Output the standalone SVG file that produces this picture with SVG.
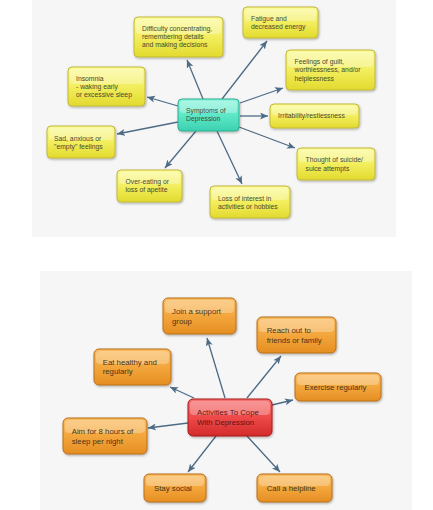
<svg xmlns="http://www.w3.org/2000/svg" width="433" height="510" viewBox="0 0 433 510">
<style>
.t{font-family:"Liberation Sans",Arial,sans-serif;font-size:6.8px;fill:#4a4a30}
.b{font-family:"Liberation Sans",Arial,sans-serif;font-size:7.8px;fill:#4a3418}
.c{fill:#5a1515}
.cn line{stroke:#4d6b85;stroke-width:1.3;marker-end:url(#ah)}
.y{fill:url(#gy);stroke:#c2b838;stroke-width:1;filter:url(#sh)}
.q{fill:url(#gq);stroke:#2fae92;stroke-width:1;filter:url(#sh)}
.o{fill:url(#go);stroke:#b86e1c;stroke-width:1;filter:url(#sh)}
.r{fill:url(#gr);stroke:#a81818;stroke-width:1;filter:url(#sh)}
.hl{fill:#fff;opacity:0.28}
</style>
<defs>
<linearGradient id="gy" x1="0" y1="0" x2="0" y2="1"><stop offset="0" stop-color="#fbfb9c"/><stop offset="0.5" stop-color="#f2ee5e"/><stop offset="1" stop-color="#e2da2e"/></linearGradient>
<linearGradient id="gq" x1="0" y1="0" x2="0" y2="1"><stop offset="0" stop-color="#8ff5dc"/><stop offset="0.5" stop-color="#5de8c8"/><stop offset="1" stop-color="#3cd0b0"/></linearGradient>
<linearGradient id="go" x1="0" y1="0" x2="0" y2="1"><stop offset="0" stop-color="#fbbd62"/><stop offset="0.5" stop-color="#f3a63c"/><stop offset="1" stop-color="#e58e22"/></linearGradient>
<linearGradient id="gr" x1="0" y1="0" x2="0" y2="1"><stop offset="0" stop-color="#f77272"/><stop offset="0.5" stop-color="#ee4a4a"/><stop offset="1" stop-color="#d42a2a"/></linearGradient>
<filter id="sh" x="-10%" y="-10%" width="125%" height="135%"><feDropShadow dx="0.8" dy="1.2" stdDeviation="0.9" flood-color="#000" flood-opacity="0.3"/></filter>
<marker id="ah" markerUnits="userSpaceOnUse" markerWidth="9" markerHeight="8" refX="8" refY="3.5" orient="auto"><path d="M0,0 L8,3.5 L0,7 L2,3.5 z" fill="#4d6b85"/></marker>
</defs>
<rect width="433" height="510" fill="#fff"/>
<rect x="32" y="0" width="364" height="237" fill="#f6f6f6"/>
<rect x="40" y="271" width="372" height="239" fill="#f6f6f6"/>

<g class="cn" id="connectors">
<line x1="203" y1="99" x2="187" y2="60"/>
<line x1="222" y1="99" x2="267" y2="41"/>
<line x1="240" y1="103" x2="283" y2="88"/>
<line x1="240" y1="116" x2="268" y2="116"/>
<line x1="239" y1="127" x2="295" y2="148"/>
<line x1="217" y1="131" x2="242" y2="184"/>
<line x1="196" y1="131" x2="165" y2="168"/>
<line x1="178" y1="122" x2="117" y2="134"/>
<line x1="178" y1="106" x2="147" y2="97"/>
<line x1="225" y1="398" x2="207" y2="338"/>
<line x1="247" y1="398" x2="281" y2="356"/>
<line x1="272" y1="405" x2="293" y2="400"/>
<line x1="194" y1="398" x2="170" y2="387"/>
<line x1="188" y1="423" x2="148" y2="428"/>
<line x1="216" y1="436" x2="188" y2="472"/>
<line x1="247" y1="436" x2="280" y2="472"/>
</g>

<g id="symptoms"><rect class="q" x="178" y="99" width="61" height="32" rx="4"/><rect class="hl" x="180" y="101" width="57" height="12" rx="3"/><text class="t"><tspan x="186" y="113.4">Symptoms of</tspan><tspan x="186" y="121.4">Depression</tspan></text></g>
<g id="difficulty"><rect class="y" x="134" y="17" width="89" height="40" rx="4"/><rect class="hl" x="136" y="19" width="85" height="15" rx="3"/><text class="t"><tspan x="142" y="31.4">Difficulty concentrating,</tspan><tspan x="142" y="39.4">remembering details</tspan><tspan x="142" y="47.4">and making decisions</tspan></text></g>
<g id="fatigue"><rect class="y" x="243" y="7" width="75" height="31" rx="4"/><rect class="hl" x="245" y="9" width="71" height="12" rx="3"/><text class="t"><tspan x="251" y="20.9">Fatigue and</tspan><tspan x="251" y="28.9">decreased energy</tspan></text></g>
<g id="feelings"><rect class="y" x="286" y="50" width="89" height="40" rx="4"/><rect class="hl" x="288" y="52" width="85" height="15" rx="3"/><text class="t"><tspan x="294.5" y="64.2">Feelings of guilt,</tspan><tspan x="294.5" y="72.4">worthlessness, and/or</tspan><tspan x="294.5" y="80.6">helplessness</tspan></text></g>
<g id="insomnia"><rect class="y" x="68" y="67" width="77" height="39" rx="4"/><rect class="hl" x="70" y="69" width="73" height="15" rx="3"/><text class="t"><tspan x="76" y="80.9">Insomnia</tspan><tspan x="76" y="88.9">- waking early</tspan><tspan x="76" y="96.9">or excessive sleep</tspan></text></g>
<g id="irritability"><rect class="y" x="270" y="104" width="89" height="24" rx="4"/><rect class="hl" x="272" y="106" width="85" height="9" rx="3"/><text class="t"><tspan x="278" y="118.4">Irritability/restlessness</tspan></text></g>
<g id="sad"><rect class="y" x="47" y="126" width="68" height="32" rx="4"/><rect class="hl" x="49" y="128" width="64" height="12" rx="3"/><text class="t"><tspan x="54" y="140.6">Sad, anxious or</tspan><tspan x="54" y="148.8">"empty" feelings</tspan></text></g>
<g id="thought"><rect class="y" x="297" y="148" width="78" height="32" rx="4"/><rect class="hl" x="299" y="150" width="74" height="12" rx="3"/><text class="t"><tspan x="305.5" y="162.4">Thought of suicide/</tspan><tspan x="305.5" y="170.6">suice attempts</tspan></text></g>
<g id="overeating"><rect class="y" x="117" y="170" width="65" height="32" rx="4"/><rect class="hl" x="119" y="172" width="61" height="12" rx="3"/><text class="t"><tspan x="125.5" y="184.2">Over-eating or</tspan><tspan x="125.5" y="192.4">loss of apetite</tspan></text></g>
<g id="loss"><rect class="y" x="210" y="186" width="80" height="32" rx="4"/><rect class="hl" x="212" y="188" width="76" height="12" rx="3"/><text class="t"><tspan x="218" y="200.6">Loss of interest in</tspan><tspan x="218" y="208.8">activities or hobbies</tspan></text></g>

<g id="activities"><rect class="r" x="188" y="399" width="84" height="37" rx="5"/><rect class="hl" x="190" y="401" width="80" height="14" rx="4"/><text class="b c"><tspan x="197" y="415.4">Activities To Cope</tspan><tspan x="197" y="424.6">With Depression</tspan></text></g>
<g id="join"><rect class="o" x="163" y="298" width="73" height="36" rx="5"/><rect class="hl" x="165" y="300" width="69" height="13" rx="4"/><text class="b"><tspan x="172" y="314.4">Join a support</tspan><tspan x="172" y="324.2">group</tspan></text></g>
<g id="reach"><rect class="o" x="257" y="317" width="79" height="36" rx="5"/><rect class="hl" x="259" y="319" width="75" height="13" rx="4"/><text class="b"><tspan x="266.7" y="333.4">Reach out to</tspan><tspan x="266.7" y="342.8">friends or family</tspan></text></g>
<g id="eat"><rect class="o" x="94" y="349" width="77" height="36" rx="5"/><rect class="hl" x="96" y="351" width="73" height="13" rx="4"/><text class="b"><tspan x="102.7" y="365">Eat healthy and</tspan><tspan x="102.7" y="374.4">regularly</tspan></text></g>
<g id="exercise"><rect class="o" x="295" y="373" width="86" height="28" rx="5"/><rect class="hl" x="297" y="375" width="82" height="10" rx="4"/><text class="b"><tspan x="304.5" y="390">Exercise regularly</tspan></text></g>
<g id="aim"><rect class="o" x="63" y="418" width="84" height="36" rx="5"/><rect class="hl" x="65" y="420" width="80" height="13" rx="4"/><text class="b"><tspan x="71.7" y="434.4">Aim for 8 hours of</tspan><tspan x="71.7" y="443.8">sleep per night</tspan></text></g>
<g id="stay"><rect class="o" x="144" y="474" width="62" height="28" rx="5"/><rect class="hl" x="146" y="476" width="58" height="10" rx="4"/><text class="b"><tspan x="154" y="491">Stay social</tspan></text></g>
<g id="call"><rect class="o" x="257" y="474" width="75" height="28" rx="5"/><rect class="hl" x="259" y="476" width="71" height="10" rx="4"/><text class="b"><tspan x="266.7" y="491">Call a helpline</tspan></text></g>
</svg>
